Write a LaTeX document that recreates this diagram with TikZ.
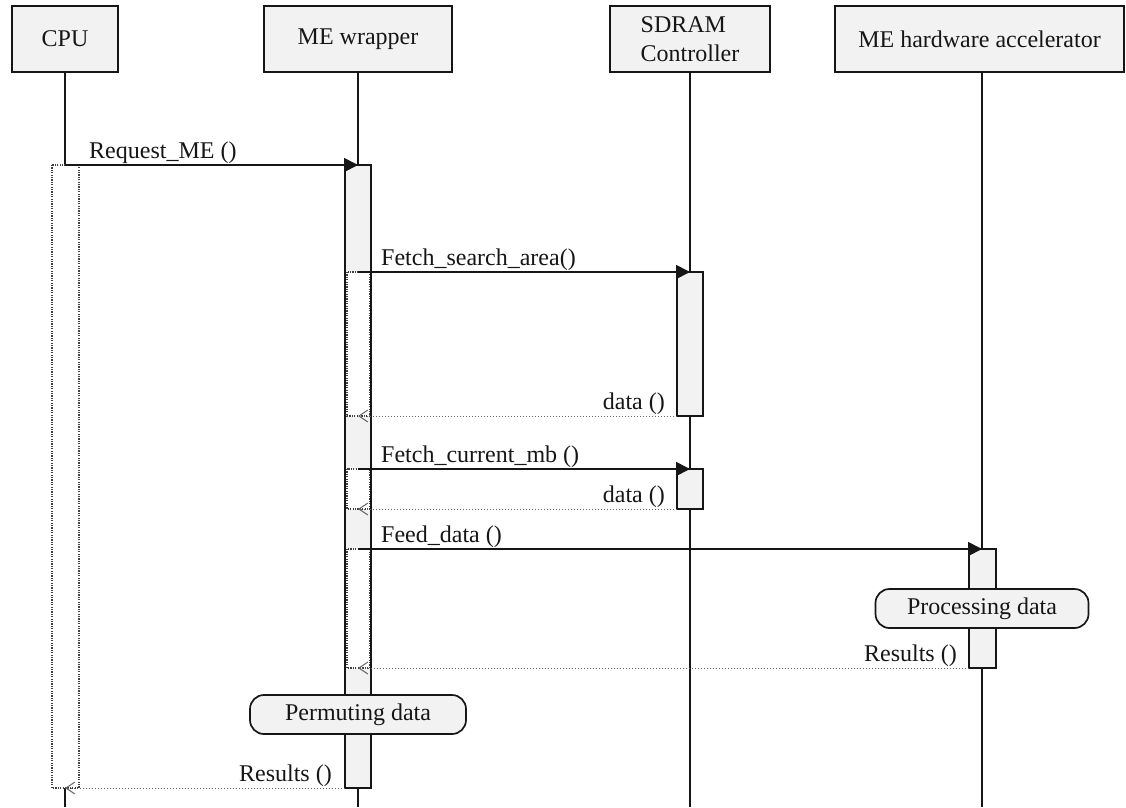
\documentclass[tikz,border=0pt]{standalone}
\usepackage{fontspec}
\setmainfont{Liberation Serif}
\usetikzlibrary{arrows.meta}
\definecolor{ink}{HTML}{161616}
\definecolor{boxgray}{HTML}{F2F2F2}
\begin{document}
\begin{tikzpicture}[x=1pt,y=-1pt,
  every node/.style={font=\fontsize{24}{29}\selectfont, text=ink},
  head/.style={draw=ink, line width=1.7pt, fill=boxgray, inner sep=0pt, minimum height=66pt},
  life/.style={draw=ink, line width=1.6pt},
  actbar/.style={draw=ink, line width=1.7pt, fill=boxgray},
  idle/.style={draw=black!75, fill=white, line width=1.2pt, dash pattern=on 1.2pt off 1.2pt},
  call/.style={draw=ink, line width=1.7pt, -{Triangle[length=14pt,width=14pt]}},
  reply/.style={draw=black!60, line width=1pt, dash pattern=on 1.5pt off 1.5pt,
                -{Straight Barb[length=9pt,width=12pt]}},
  note/.style={draw=ink, line width=1.7pt, fill=boxgray, rounded corners=14pt,
               minimum height=39pt, inner sep=0pt},
  lbl/.style={inner sep=0pt}
]
\useasboundingbox (0,0) rectangle (1126,807);
\fill[white] (0,0) rectangle (1126,807);

% participants
\node[head, minimum width=106pt] (cpu) at (65,39) {CPU};
\node[head, minimum width=188pt] (mew) at (358,39) {ME wrapper};
\node[head, minimum width=160pt, align=left] (sdr) at (690,39) {SDRAM\\Controller};
\node[head, minimum width=289pt] (hw) at (979.5,39) {ME hardware accelerator};

% lifeline ends
\coordinate (cpu-end) at (65,807);
\coordinate (mew-end) at (358,807);
\coordinate (sdr-end) at (690,807);
\coordinate (hw-end)  at (982,807);

\draw[life] (cpu.south) -- (cpu-end);
\draw[life] (mew.south) -- (mew-end);
\draw[life] (sdr.south) -- (sdr-end);
\draw[life] (hw-end |- hw.south) -- (hw-end);

% activations
\draw[idle] (52,165) rectangle (79,788);
\draw[actbar] (345,165) rectangle (371,788);
\draw[idle] (347,272) rectangle (369.5,416);
\draw[idle] (347,469) rectangle (369.5,509);
\draw[idle] (347,549) rectangle (369.5,668);
\draw[actbar] (677,272) rectangle (703,416);
\draw[actbar] (677,469) rectangle (703,509);
\draw[actbar] (969,549) rectangle (996,668);

% internal processing
\node[note, minimum width=213pt] (proc) at (982,608.5) {Processing data};
\node[note, minimum width=216pt] (perm) at (358,714.5) {Permuting data};

% message end points
\coordinate (req-s)  at (65,165);   \coordinate (req-e)  at (358,165);
\coordinate (fsa-s)  at (358,272);  \coordinate (fsa-e)  at (690,272);
\coordinate (d1-s)   at (677,416);  \coordinate (d1-e)   at (358,416);
\coordinate (fcm-s)  at (358,469);  \coordinate (fcm-e)  at (690,469);
\coordinate (d2-s)   at (677,509);  \coordinate (d2-e)   at (358,509);
\coordinate (fd-s)   at (358,549);  \coordinate (fd-e)   at (982,549);
\coordinate (r1-s)   at (969,668);  \coordinate (r1-e)   at (358,668);
\coordinate (r2-s)   at (345,788);  \coordinate (r2-e)   at (65,788);

% messages
\draw[call]  (req-s) -- (req-e);
\draw[call]  (fsa-s) -- (fsa-e);
\draw[reply] (d1-s)  -- (d1-e);
\draw[call]  (fcm-s) -- (fcm-e);
\draw[reply] (d2-s)  -- (d2-e);
\draw[call]  (fd-s)  -- (fd-e);
\draw[reply] (r1-s)  -- (r1-e);
\draw[reply] (r2-s)  -- (r2-e);

% message labels
\node[lbl, anchor=base west] (req-l) at (89,158)  {Request\_ME ()};
\node[lbl, anchor=base west] (fsa-l) at (381,265) {Fetch\_search\_area()};
\node[lbl, anchor=base east] (d1-l)  at (665,409) {data ()};
\node[lbl, anchor=base west] (fcm-l) at (381,462) {Fetch\_current\_mb ()};
\node[lbl, anchor=base east] (d2-l)  at (665,502) {data ()};
\node[lbl, anchor=base west] (fd-l)  at (381,542) {Feed\_data ()};
\node[lbl, anchor=base east] (r1-l)  at (957,661) {Results ()};
\node[lbl, anchor=base east] (r2-l)  at (332,781) {Results ()};
\end{tikzpicture}
\end{document}
